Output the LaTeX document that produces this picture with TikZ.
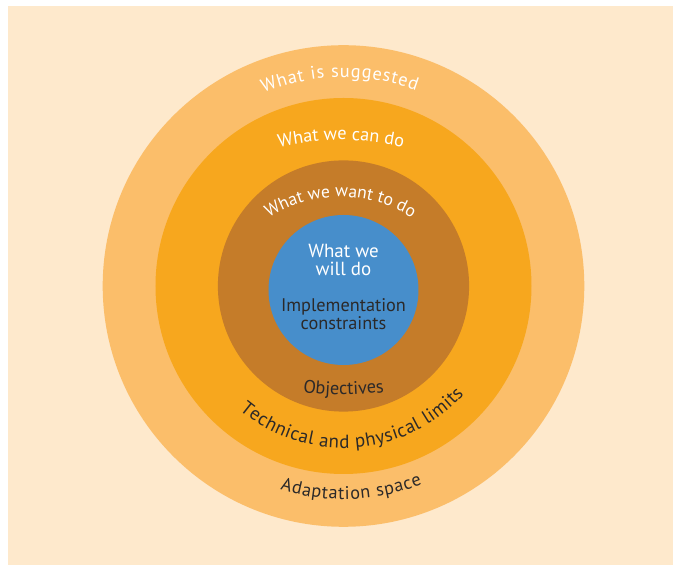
\documentclass[tikz,border=0pt]{standalone}
\usepackage{fontspec}
\setmainfont{PT Sans}
\usepackage{xcolor}
\usetikzlibrary{decorations.text}
\definecolor{peach}{RGB}{254,233,204}
\definecolor{lightorange}{RGB}{251,190,106}
\definecolor{midorange}{RGB}{247,167,30}
\definecolor{brownring}{RGB}{197,124,41}
\definecolor{coreblue}{RGB}{71,142,203}
\definecolor{darktext}{RGB}{43,41,41}
\def\outercircle{(0,0) circle (6.02cm)}
\def\limitcircle{(0,0) circle (4.7cm)}
\def\wantcircle{(0,0) circle (3.14cm)}
\def\willcircle{(0,-0.1) circle (1.875cm)}
\newcommand{\ringfont}{\fontsize{13}{12.5}\selectfont}
\newcommand{\smallringfont}{\fontsize{12.5}{12.5}\selectfont}
\newcommand{\bigringfont}{\fontsize{13.5}{13.5}\selectfont}
\newcommand{\corefont}{\fontsize{13.5}{12.5}\selectfont}
\tikzset{ringtext/.style={decorate, decoration={text along path, text align=center, text color=#1}},
  fittext/.style={ringtext=#1, decoration={text align=fit to path}}}

\begin{document}
\begin{tikzpicture}
    \useasboundingbox (-8.5875,-6.975) rectangle (8.2375,7.15);
    \fill[peach] (-8.3875,-6.975) rectangle (8.2375,7.0);
      \fill[lightorange] \outercircle;
      \fill[midorange] \limitcircle;
      \fill[brownring] \wantcircle;
      \fill[coreblue] \willcircle;
      % labels on the rings
      \path[fittext=white, decoration={text={|\ringfont|What is suggested}}]
        (112.5:5.22) arc[start angle=112.5, end angle=69.6, radius=5.22];
      \path[ringtext=white, decoration={text={|\ringfont|What we can do}}]
        ([shift={(110:6.725)}]-0.0625,-3.075) arc[start angle=110, end angle=70, radius=6.725];
      \path[ringtext=white, decoration={text={|\smallringfont|What we want to do}}]
        ([shift={(140:3.3125)}]-0.075,-1.0875) arc[start angle=140, end angle=40, radius=3.3125];
      \path[ringtext=darktext, decoration={text={|\ringfont|Objectives}}]
        ([shift={(255:6.875)}]0,4.15) arc[start angle=255, end angle=285, radius=6.875];
      \path[fittext=darktext, decoration={text={|\bigringfont|Technical and physical limits}}]
        (230:4.05) arc[start angle=230, end angle=318, radius=4.05];
      \path[fittext=darktext, decoration={text={|\ringfont|Adaptation space}}]
        (252.7:5.33) arc[start angle=252.7, end angle=291.7, radius=5.33];
      % centre
      \node[text=white, align=center, font=\corefont] (willdo) at (0,0.65) {What we\\will do};
      \node[text=darktext, align=center, font=\ringfont] (constraints) at (0,-0.7) {Implementation\\constraints};
    \end{tikzpicture}
\end{document}
